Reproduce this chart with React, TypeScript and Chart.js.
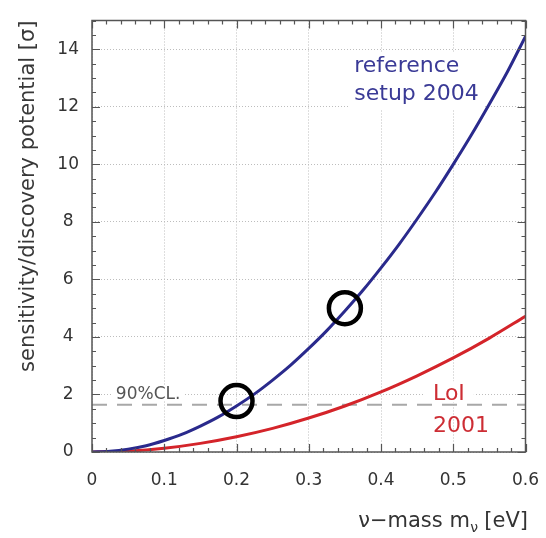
import React, { useEffect, useRef } from "react";
import { Chart, registerables } from "chart.js";

Chart.register(...registerables);

// neutrino mass grid (eV) and discovery potential (sigma)
const massReference = [0, 0.025, 0.05, 0.075, 0.1, 0.125, 0.15, 0.175, 0.2, 0.225, 0.25, 0.275, 0.3, 0.325, 0.35, 0.375, 0.4, 0.425, 0.45, 0.475, 0.5, 0.525, 0.55, 0.575, 0.6];
const sigmaReference2004 = [0, 0.025, 0.1, 0.22, 0.4, 0.62, 0.9, 1.22, 1.6, 2.02, 2.5, 3.02, 3.6, 4.22, 4.9, 5.62, 6.4, 7.22, 8.1, 9.02, 10.0, 11.02, 12.1, 13.22, 14.45];

const massLoI = [0, 0.05, 0.1, 0.15, 0.2, 0.25, 0.3, 0.35, 0.4, 0.45, 0.5, 0.55, 0.6];
const sigmaLoI2001 = [0, 0.03, 0.13, 0.3, 0.53, 0.82, 1.18, 1.6, 2.09, 2.65, 3.27, 3.96, 4.72];

const cl90Sigma = 1.64;
const cl90Mass = [0, 0.6];

const markerMass = [0.2, 0.35];
const markerSigma = [1.77, 5.0];

const xTickValues = [0, 0.1, 0.2, 0.3, 0.4, 0.5, 0.6];
const yTickValues = [0, 2, 4, 6, 8, 10, 12, 14];

const labelReference = ["reference", "setup 2004"];
const labelLoI = ["LoI", "2001"];
const labelCL = "90%CL.";
const yTitle = "sensitivity/discovery potential [σ]";
const xTitleMain = "ν−mass m";
const xTitleSub = "ν";
const xTitleTail = " [eV]";

const FONT = "'DejaVu Sans', sans-serif";

function drawBoxedLines(ctx: CanvasRenderingContext2D, lines: string[], x: number, y: number, lh: number, font: string, color: string, pad: number[]) {
  ctx.save();
  ctx.font = font;
  let w = 0;
  lines.forEach((l) => { w = Math.max(w, ctx.measureText(l).width); });
  ctx.fillStyle = "#ffffff";
  ctx.fillRect(x - pad[0], y - pad[1], w + pad[0] + pad[2], lh * (lines.length - 1) + pad[1] + pad[3]);
  ctx.fillStyle = color;
  ctx.textAlign = "left";
  ctx.textBaseline = "alphabetic";
  lines.forEach((l, i) => ctx.fillText(l, x, y + i * lh));
  ctx.restore();
}

const decorPlugin = {
  id: "decor",
  beforeDatasetsDraw(chart: any) {
    const { ctx, scales } = chart;
    const x = scales.x, y = scales.y;
    drawBoxedLines(ctx, labelReference, x.getPixelForValue(0.363), y.getPixelForValue(13.2), 27.7, `22px ${FONT}`, "rgb(58,58,150)", [5, 20, 5, 10]);
    drawBoxedLines(ctx, [labelLoI[0]], x.getPixelForValue(0.472), y.getPixelForValue(1.8), 0, `22px ${FONT}`, "rgb(205,45,52)", [9, 19, 9, 2]);
    drawBoxedLines(ctx, [labelLoI[1]], x.getPixelForValue(0.472), y.getPixelForValue(0.69), 0, `22px ${FONT}`, "rgb(205,45,52)", [0, 0, 0, 0]);
    drawBoxedLines(ctx, [labelCL], x.getPixelForValue(0.033), y.getPixelForValue(1.84), 0, `17px ${FONT}`, "#555555", [3, 14, 3, 2]);
  },
  afterDraw(chart: any) {
    const { ctx, chartArea: a, scales } = chart;
    const x = scales.x, y = scales.y;
    ctx.save();
    ctx.strokeStyle = "#555555";
    ctx.lineWidth = 1.5;
    ctx.setLineDash([]);
    ctx.strokeRect(a.left, a.top, a.right - a.left, a.bottom - a.top);
    ctx.lineWidth = 1.2;
    ctx.beginPath();
    for (let i = 0; i <= 30; i++) {
      const px = Math.round(x.getPixelForValue(i * 0.02)) + 0.5;
      const len = i % 5 === 0 ? 8 : 4;
      ctx.moveTo(px, a.bottom); ctx.lineTo(px, a.bottom - len);
      ctx.moveTo(px, a.top); ctx.lineTo(px, a.top + len);
    }
    for (let i = 0; i <= 30; i++) {
      const py = Math.round(y.getPixelForValue(i * 0.5)) + 0.5;
      const len = i % 4 === 0 ? 8 : 4;
      ctx.moveTo(a.left, py); ctx.lineTo(a.left + len, py);
      ctx.moveTo(a.right, py); ctx.lineTo(a.right - len, py);
    }
    ctx.stroke();

    // x axis title with subscript
    ctx.fillStyle = "#333333";
    ctx.textBaseline = "alphabetic";
    ctx.textAlign = "left";
    const mainFont = `21px ${FONT}`;
    const subFont = `14px ${FONT}`;
    ctx.font = mainFont;
    const w1 = ctx.measureText(xTitleMain).width;
    const w3 = ctx.measureText(xTitleTail).width;
    ctx.font = subFont;
    const w2 = ctx.measureText(xTitleSub).width;
    const right = 528;
    const base = 527;
    let sx = right - (w1 + w2 + w3);
    ctx.font = mainFont;
    ctx.fillText(xTitleMain, sx, base);
    sx += w1;
    ctx.font = subFont;
    ctx.fillText(xTitleSub, sx + 0.5, base + 5);
    sx += w2;
    ctx.font = mainFont;
    ctx.fillText(xTitleTail, sx, base);
    ctx.restore();
  },
};

export default function App() {
  const ref = useRef<HTMLCanvasElement | null>(null);
  useEffect(() => {
    if (!ref.current) return;
    const chart = new Chart(ref.current, {
      type: "scatter",
      data: {
        datasets: [
          {
            label: "90% CL",
            data: cl90Mass.map((m) => ({ x: m, y: cl90Sigma })),
            showLine: true,
            borderColor: "#a8a8a8",
            borderWidth: 2,
            borderDash: [15, 10],
            pointRadius: 0,
            order: 4,
          },
          {
            label: "LoI 2001",
            data: massLoI.map((m, i) => ({ x: m, y: sigmaLoI2001[i] })),
            showLine: true,
            borderColor: "rgb(212,36,42)",
            borderWidth: 3,
            pointRadius: 0,
            cubicInterpolationMode: "monotone",
            order: 3,
          },
          {
            label: "reference setup 2004",
            data: massReference.map((m, i) => ({ x: m, y: sigmaReference2004[i] })),
            showLine: true,
            borderColor: "rgb(42,42,140)",
            borderWidth: 3,
            pointRadius: 0,
            cubicInterpolationMode: "monotone",
            order: 2,
          },
          {
            label: "markers",
            data: markerMass.map((m, i) => ({ x: m, y: markerSigma[i] })),
            showLine: false,
            pointRadius: 16,
            pointBorderWidth: 4.5,
            pointBorderColor: "#000000",
            pointBackgroundColor: "rgba(0,0,0,0)",
            order: 1,
          },
        ],
      },
      options: {
        responsive: false,
        animation: false,
        devicePixelRatio: 1,
        events: [],
        layout: { padding: { left: 0, top: 12, right: 19, bottom: 0 } },
        plugins: { legend: { display: false }, tooltip: { enabled: false } },
        scales: {
          x: {
            type: "linear",
            min: 0,
            max: 0.6,
            afterBuildTicks: (axis: any) => { axis.ticks = xTickValues.map((v) => ({ value: v })); },
            afterFit: (s: any) => { s.height = 86; s.paddingLeft = 0; s.paddingRight = 0; s.paddingTop = 0; s.paddingBottom = 0; },
            grid: { color: "#bdbdbd", lineWidth: 1, drawTicks: false },
            border: { display: false, dash: [1, 2] },
            ticks: {
              padding: 18,
              color: "#333333",
              font: { family: FONT, size: 17 },
              callback: (v: any) => (Number(v) === 0 ? "0" : Number(v).toFixed(1)),
            },
          },
          y: {
            type: "linear",
            min: 0,
            max: 15,
            afterBuildTicks: (axis: any) => { axis.ticks = yTickValues.map((v) => ({ value: v })); },
            afterFit: (s: any) => { s.width = 92; s.paddingLeft = 0; s.paddingRight = 0; s.paddingTop = 0; s.paddingBottom = 0; },
            grid: { color: "#bdbdbd", lineWidth: 1, drawTicks: false },
            border: { display: false, dash: [1, 2] },
            ticks: {
              padding: 13,
              crossAlign: "center",
              color: "#333333",
              font: { family: FONT, size: 17 },
              callback: (v: any) => String(v),
            },
            title: {
              display: true,
              text: yTitle,
              align: "end",
              color: "#383838",
              font: { family: FONT, size: 21 },
              padding: { top: 16, bottom: 0 },
            },
          },
        },
      },
      plugins: [decorPlugin],
    } as any);
    return () => chart.destroy();
  }, []);
  return (
    <div style={{ position: "fixed", left: 0, top: 0, width: 546, height: 538, background: "#fff" }}>
      <canvas ref={ref} width={546} height={538} style={{ width: 546, height: 538, display: "block" }} />
    </div>
  );
}
